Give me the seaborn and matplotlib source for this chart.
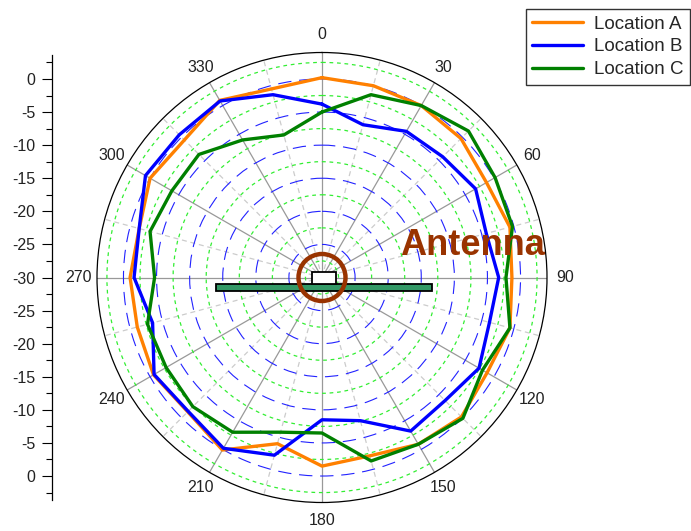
import numpy as np
import pandas as pd
import matplotlib
matplotlib.use("Agg")
import matplotlib.pyplot as plt
import matplotlib.ticker as ticker
from matplotlib.lines import Line2D
from matplotlib.patches import Rectangle, Circle
import seaborn as sns

# === DATA ===
ANGLES = [0, 15, 30, 45, 60, 75, 90, 105, 120, 135, 150, 165,
          180, 195, 210, 225, 240, 255, 270, 285, 300, 315, 330, 345]
LOC_A = [0.2, 0.0, 0.0, -0.3, -1.3, -0.6, -1.3, -0.6, -1.2, -0.2, -0.9, -2.1,
         -1.5, -4.0, 0.1, -1.3, -0.6, -1.1, -1.0, -1.4, 0.0, -0.6, 0.9, -0.5]
LOC_B = [-3.8, -6.1, -4.5, -4.2, -3.2, -4.3, -3.3, -3.8, -2.6, -3.7, -3.2, -7.6,
         -8.5, -2.2, -0.2, -1.4, -0.7, -3.5, -1.6, -1.4, 0.8, 0.5, 0.8, -1.4]
LOC_C = [-5.0, -1.4, 0.0, 1.3, 0.2, -0.2, -2.2, -0.6, -2.0, 0.1, -0.9, -1.3,
         -6.5, -5.8, -3.0, -2.4, -2.8, -2.7, -4.7, -3.1, -3.8, -3.7, -6.0, -7.7]
SERIES = ["Location A", "Location B", "Location C"]
COLORS = ["#FF8000", "#0000FF", "#008000"]
ANGLE_TICKS = [0, 30, 60, 90, 120, 150, 180, 210, 240, 270, 300, 330]
ANGLE_LABELS = ["0", "30", "60", "90", "120", "150", "180", "210", "240", "270", "300", "330"]
ANGLE_MINOR = [15, 45, 75, 105, 135, 165, 195, 225, 255, 285, 315, 345]
R_MAJOR = [-25, -20, -15, -10, -5, 0]
R_MINOR = [-27.5, -22.5, -17.5, -12.5, -7.5, -2.5, 2.5]
R_MIN, R_MAX = -30, 4

BROWN = "#993300"

sns.set_style("white")
plt.rcParams["font.family"] = ["Liberation Sans", "DejaVu Sans"]
plt.rcParams["axes.unicode_minus"] = False

# long form, loop closed by repeating first angle at 360
rows = []
for name, vals in zip(SERIES, [LOC_A, LOC_B, LOC_C]):
    for a, v in zip(ANGLES + [360], vals + vals[:1]):
        rows.append({"Location": name, "theta": np.deg2rad(a), "r": v})
df = pd.DataFrame(rows)

W, H = 691, 531
fig = plt.figure(figsize=(W / 100, H / 100), dpi=100)
cx, cy, rad = 322, 277.5, 225
ax = fig.add_axes([(cx - rad) / W, (H - cy - rad) / H, 2 * rad / W, 2 * rad / H],
                  projection="polar")
ax.set_facecolor("white")
ax.set_theta_zero_location("N")
ax.set_theta_direction(-1)

sns.lineplot(data=df, x="theta", y="r", hue="Location", palette=COLORS,
             sort=False, estimator=None, lw=2.4, legend=False, ax=ax, zorder=5)
ax.set_xlabel("")
ax.set_ylabel("")
ax.set_rlim(R_MIN, R_MAX)

ax.set_xticks(np.deg2rad(ANGLE_TICKS))
ax.set_xticklabels(ANGLE_LABELS)
ax.xaxis.set_minor_locator(ticker.FixedLocator(np.deg2rad(ANGLE_MINOR)))
ax.set_yticks(R_MAJOR)
ax.yaxis.set_minor_locator(ticker.FixedLocator(R_MINOR))
ax.set_yticklabels([])

ax.grid(which="major", axis="x", color="#999999", lw=0.9, ls="-")
ax.grid(which="minor", axis="x", color="#cccccc", lw=0.9, ls=(0, (4, 3)))
ax.grid(which="major", axis="y", color="#2222ff", lw=0.8, ls=(0, (12, 7)))
ax.grid(which="minor", axis="y", color="#33ee33", lw=0.9, ls=(0, (3, 3)))
ax.spines["polar"].set_color("black")
ax.spines["polar"].set_linewidth(0.9)
ax.tick_params(axis="x", which="both", bottom=True, direction="out",
               length=4, width=0.8, color="black")
ax.tick_params(axis="x", which="major", labelsize=11.5, labelcolor="#222222", pad=2)
ax.tick_params(axis="y", which="both", length=0)

# left linear scale, mirrored around the centre
lax = fig.add_axes([52 / W, (H - cy - rad) / H, 0.0001, 2 * rad / H])
span = R_MAX - R_MIN
lax.set_ylim(-span, span)
maj = [v for v in range(-30, 31, 5)]
lax.set_yticks(maj)
lax.set_yticklabels([str(abs(v) + R_MIN) for v in maj])
lax.yaxis.set_minor_locator(ticker.FixedLocator(
    [-32.5, -27.5, -22.5, -17.5, -12.5, -7.5, -2.5, 2.5, 7.5, 12.5, 17.5, 22.5, 27.5, 32.5]))
lax.set_xticks([])
for s in ["top", "right", "bottom"]:
    lax.spines[s].set_visible(False)
lax.spines["left"].set_color("black")
lax.spines["left"].set_linewidth(0.9)
lax.spines["left"].set_bounds(-33.6, 33.6)
lax.tick_params(axis="y", which="major", left=True, length=7, width=0.8,
                color="black", labelsize=11.5, labelcolor="#222222", pad=5)
lax.tick_params(axis="y", which="minor", left=True, length=4, width=0.8, color="black")

# antenna sketch at the centre
ov = fig.add_axes([0, 0, 1, 1], zorder=10)
ov.set_xlim(0, W)
ov.set_ylim(H, 0)
ov.axis("off")
ov.add_patch(Rectangle((216, 284), 216, 7, fc="#339966", ec="black", lw=1.3))
ov.add_patch(Rectangle((312, 272), 24, 12, fc="white", ec="black", lw=1.3))
ov.add_patch(Circle((cx, cy), 23.5, fill=False, ec=BROWN, lw=3.2))
ov.text(400, 255, "Antenna", color=BROWN, fontsize=26, fontweight="bold",
        ha="left", va="baseline")

handles = [Line2D([], [], color=c, lw=2.4) for c in COLORS]
leg = fig.legend(handles, SERIES, loc="upper right",
                 bbox_to_anchor=(1 - 1 / W, 1 - 9 / H), fontsize=13.5,
                 frameon=True, fancybox=False, edgecolor="black",
                 handlelength=2.7, handletextpad=0.6, labelspacing=0.3,
                 borderpad=0.35, borderaxespad=0)
leg.get_frame().set_linewidth(1.0)

fig.savefig("out.png", dpi=100)
